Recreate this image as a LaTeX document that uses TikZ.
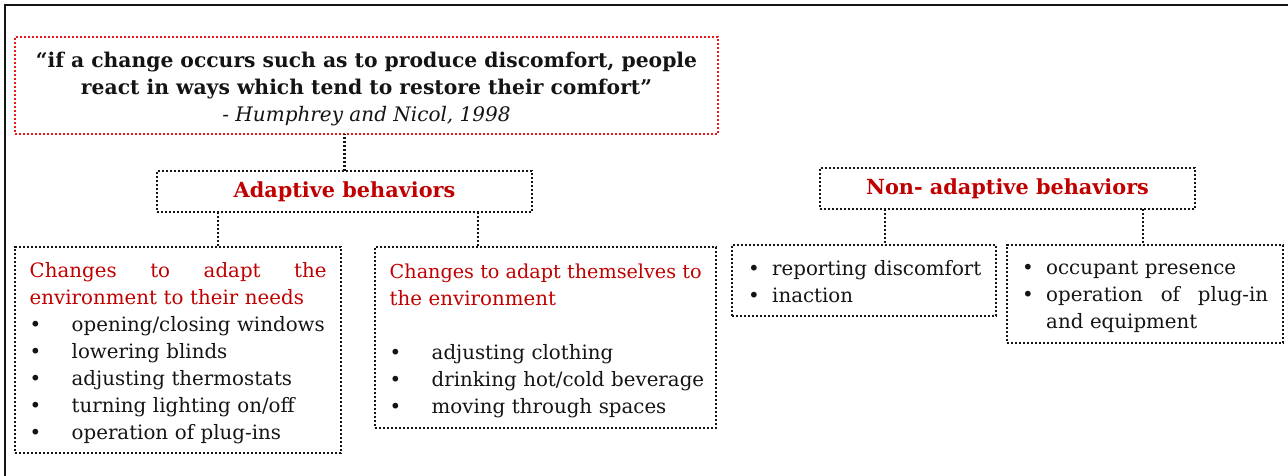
\documentclass[tikz,border=0pt]{standalone}
\usepackage{fontspec}
\setmainfont{DejaVu Serif}
\definecolor{hred}{HTML}{C00000}
\definecolor{bred}{HTML}{E41A1A}
\definecolor{dk}{HTML}{141414}
\newcommand{\itm}[1]{\makebox[42pt][l]{\textbullet}#1}
\newcommand{\itmb}[1]{\makebox[24pt][l]{\textbullet}#1}
\tikzset{
  dotbox/.style={draw=dk, line width=2.3pt, dash pattern=on 2.1pt off 1.9pt, rectangle, inner sep=0pt, outer sep=0pt},
  redbox/.style={dotbox, draw=bred},
  conn/.style={draw=dk, line width=2.3pt, dash pattern=on 2.1pt off 1.9pt},
  body/.style={font=\fontsize{19.8}{27}\selectfont, text=dk, inner sep=0pt, anchor=west, text width=360pt, align=left},
  head/.style={font=\fontsize{20.8}{24}\selectfont\bfseries, text=hred},
}
\begin{document}
\begin{tikzpicture}[x=1pt, y=-1pt]
\useasboundingbox (0,0) rectangle (1288,476);
\draw[line width=2.6pt, dk] (5,476) -- (5,5) -- (1288,5);

% boxes
\node[redbox, minimum width=703pt, minimum height=97pt] (quote) at (366.5,85.5) {};
\node[dotbox, head, minimum width=375pt, minimum height=41pt] (adaptive) at (344.5,191.5) {\raisebox{-1pt}{Adaptive behaviors}};
\node[dotbox, head, minimum width=375pt, minimum height=41pt] (nonad) at (1007.5,188.5) {\raisebox{-1pt}{Non- adaptive behaviors}};
\node[dotbox, anchor=north west, minimum width=326pt, minimum height=206pt] (envbox) at (15,247) {};
\node[dotbox, anchor=north west, minimum width=341pt, minimum height=181pt] (selfbox) at (375,247) {};
\node[dotbox, anchor=north west, minimum width=264pt, minimum height=71pt] (repbox) at (732,245) {};
\node[dotbox, anchor=north west, minimum width=276pt, minimum height=98pt] (occbox) at (1007,245) {};

% texts
\node[align=center, text=dk, inner sep=0pt, font=\fontsize{20.3}{27}\selectfont] (quotetext) at ([yshift=-4pt]quote.center)
  {{\bfseries “if a change occurs such as to produce discomfort, people}\\
   {\bfseries react in ways which tend to restore their comfort”}\\
   {\fontsize{20}{27}\selectfont\itshape - Humphrey and Nicol, 1998}};

\node[body] (envtext) at ([xshift=14.5pt, yshift=-3pt]envbox.west)
  {\textcolor{hred}{\hbox to 297pt{Changes\hfill to\hfill adapt\hfill the}}\\
   \textcolor{hred}{environment to their needs}\\
   \itm{opening/closing windows}\\
   \itm{lowering blinds}\\
   \itm{adjusting thermostats}\\
   \itm{turning lighting on/off}\\
   \itm{operation of plug-ins}};

\node[body] (selftext) at ([xshift=14.5pt, yshift=-3pt]selfbox.west)
  {\textcolor{hred}{\hbox to 312pt{\fontsize{19.2}{27}\selectfont Changes\hfill to\hfill adapt\hfill themselves\hfill to}}\\
   \textcolor{hred}{the environment}\\
   \mbox{}\\
   \itm{adjusting clothing}\\
   \itm{drinking hot/cold beverage}\\
   \itm{moving through spaces}};

\node[body] (reptext) at ([xshift=16pt, yshift=-1pt]repbox.west)
  {\itmb{reporting discomfort}\\
   \itmb{inaction}};

\node[body] (occtext) at ([xshift=15pt, yshift=-3pt]occbox.west)
  {\itmb{occupant presence}\\
   \itmb{\hbox to 222pt{operation\hfill of\hfill plug-in}}\\
   \hspace*{24pt}and equipment};

% connectors
\draw[conn] (adaptive.north) -- (adaptive.north |- quote.south);
\coordinate (a1) at ([xshift=-126.5pt]adaptive.south);
\coordinate (a2) at ([xshift=133.5pt]adaptive.south);
\draw[conn] (a1) -- (a1 |- envbox.north);
\draw[conn] (a2) -- (a2 |- selfbox.north);
\coordinate (n1) at ([xshift=-122.5pt]nonad.south);
\coordinate (n2) at ([xshift=135.5pt]nonad.south);
\draw[conn] (n1) -- (n1 |- repbox.north);
\draw[conn] (n2) -- (n2 |- occbox.north);
\end{tikzpicture}
\end{document}
